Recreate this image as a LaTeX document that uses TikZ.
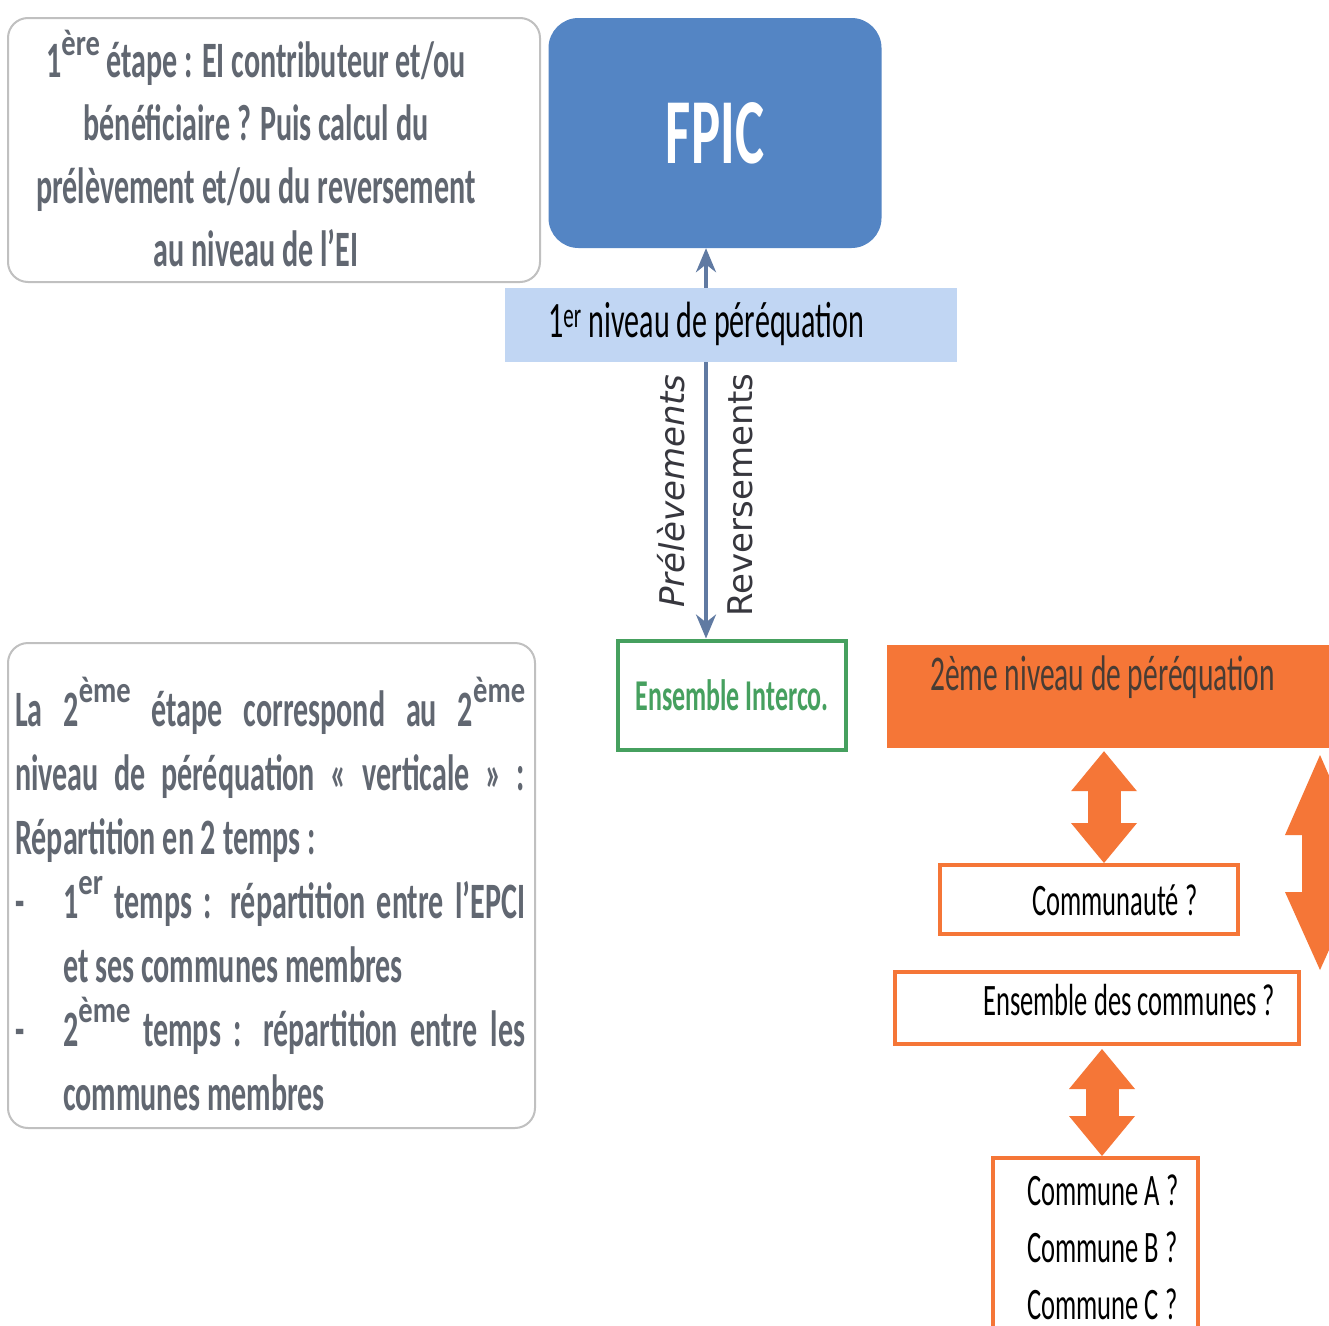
\documentclass[tikz,border=0pt]{standalone}
\usepackage{fontspec}
\usepackage{graphicx}
\setmainfont{Carlito}[FakeStretch=0.59]
\newfontfamily\rotfont{DejaVu Sans}
\usetikzlibrary{arrows.meta}

\definecolor{textegris}{RGB}{97,103,113}
\definecolor{bordgris}{RGB}{192,192,192}
\definecolor{bleufpic}{RGB}{84,133,196}
\definecolor{bleuclair}{RGB}{193,214,243}
\definecolor{flechebleu}{RGB}{96,122,162}
\definecolor{vertinterco}{RGB}{70,160,95}
\definecolor{orangeniv}{RGB}{245,118,55}
\definecolor{brunniv}{RGB}{72,60,52}
\definecolor{labelgris}{RGB}{55,55,62}

% exposant large des encadres gris
\newcommand\expo[2][22pt]{\raisebox{#1}{\scalebox{0.95}[0.72]{#2}}}

\begin{document}
\begin{tikzpicture}[x=1pt, y=-1pt,
    boitegrise/.style={draw=bordgris, line width=2pt, rounded corners=20pt, inner sep=0pt},
    textgris/.style={text=textegris, font=\fontsize{51}{63}\selectfont\bfseries, inner sep=0pt},
    boiteorange/.style={draw=orangeniv, line width=4pt, fill=white, inner sep=0pt},
    texteorange/.style={font=\fontsize{45}{57}\selectfont, inner sep=0pt},
    fleche/.style={draw=flechebleu, line width=3.5pt, -{Stealth[length=24pt, width=20pt]}},
    doublefleche/.style={draw=orangeniv, line width=33pt,
        {Triangle[length=40pt, width=66pt, line width=0pt]}-{Triangle[length=40pt, width=66pt, line width=0pt]}},
    etiquette/.style={rotate=90, text=labelgris, inner sep=0pt},
]
    % fond
    \fill[white] (0,0) rectangle (1329,1325);
    \useasboundingbox (0,0) rectangle (1329,1325);

    % 1ere etape
    \node[boitegrise, minimum width=532pt, minimum height=264pt] (etape1) at (274,150) {};
    \node[textgris, align=center, anchor=north] (etape1txt) at (256,30)
        {1\expo{ère} étape : EI contributeur et/ou\\bénéficiaire ? Puis calcul du\\prélèvement et/ou du reversement\\au niveau de l’EI};

    % FPIC et 1er niveau
    \node[fill=bleufpic, rounded corners=30pt, minimum width=333pt, minimum height=230pt,
          text=white, font=\fontsize{93}{100}\selectfont\bfseries] (fpic) at (715,133) {FPIC};
    \node[fill=bleuclair, minimum width=452pt, minimum height=74pt] (niv1) at (731,325) {};
    \node[anchor=base west, inner sep=0pt, font=\fontsize{51}{62}\selectfont] (niv1txt) at (548,337)
        {1\textsuperscript{er} niveau de péréquation};
    \node[draw=vertinterco, line width=4pt, minimum width=228pt, minimum height=109pt,
          text=vertinterco, font=\fontsize{44}{50}\selectfont\bfseries] (interco) at (732,695) {Ensemble Interco.};

    % fleches du 1er niveau
    \coordinate (axe) at (706,0);
    \draw[fleche] (niv1.north -| axe) -- (fpic.south -| axe);
    \draw[fleche] (niv1.south -| axe) -- (interco.north -| axe);
    \node[etiquette, font=\rotfont\fontsize{34}{40}\selectfont\itshape] (prelev) at (671,491) {Prélèvements};
    \node[etiquette, font=\rotfont\fontsize{34}{40}\selectfont] (revers) at (740,495) {Reversements};

    % 2eme etape
    \node[boitegrise, minimum width=527pt, minimum height=485pt] (etape2) at (271.5,885.5) {};
    \node[textgris, text width=510pt, align=justify, anchor=north west, font=\fontsize{51}{64}\selectfont\bfseries] (etape2txt) at (15,677)
        {\tolerance=10000 La 2\expo[24pt]{ème} étape correspond au 2\expo[24pt]{ème}\linebreak
        niveau de péréquation « verticale » :\linebreak
        Répartition en 2 temps :\par
        \hangindent=48pt\hangafter=1 \makebox[48pt][l]{-}1\expo[24pt]{er} temps : répartition entre l’EPCI\linebreak
        et ses communes membres\par
        \hangindent=48pt\hangafter=1 \makebox[48pt][l]{-}2\expo[24pt]{ème} temps : répartition entre les\linebreak
        communes membres\par};

    % 2eme niveau
    \node[fill=orangeniv, minimum width=442pt, minimum height=103pt, inner sep=0pt] (niv2) at (1108,696.5) {};
    \node[anchor=base west, inner sep=0pt, text=brunniv, font=\fontsize{50}{60}\selectfont] (niv2txt) at (930,690)
        {2ème niveau de péréquation};
    \node[boiteorange, minimum width=298pt, minimum height=69pt] (communaute) at (1089,899.5) {};
    \node[texteorange, anchor=base west] (communautetxt) at (1032,915) {Communauté ?};
    \node[boiteorange, minimum width=404pt, minimum height=72pt] (ensemble) at (1097,1008) {};
    \node[texteorange, anchor=base west] (ensembletxt) at (983,1015) {Ensemble des communes ?};
    \node[boiteorange, minimum width=205pt, minimum height=200pt] (communes) at (1095.5,1258) {};
    \node[texteorange, align=left, anchor=north west] (communestxt) at (1027,1175)
        {Commune A ?\\Commune B ?\\Commune C ?};

    % doubles fleches
    \coordinate (axe2) at (1104,0);
    \coordinate (axe3) at (1102,0);
    \draw[doublefleche, shorten <=3pt] (niv2.south -| axe2) -- (communaute.north -| axe2);
    \draw[doublefleche, shorten <=3pt] (ensemble.south -| axe3) -- (communes.north -| axe3);
    \coordinate (grandhaut) at (1320,755);
    \coordinate (grandbas) at (1320,970);
    \draw[draw=orangeniv, line width=36pt,
        {Triangle[length=80pt, width=70pt, line width=0pt]}-{Triangle[length=78pt, width=70pt, line width=0pt]}]
        (grandhaut) -- (grandbas);
\end{tikzpicture}
\end{document}
